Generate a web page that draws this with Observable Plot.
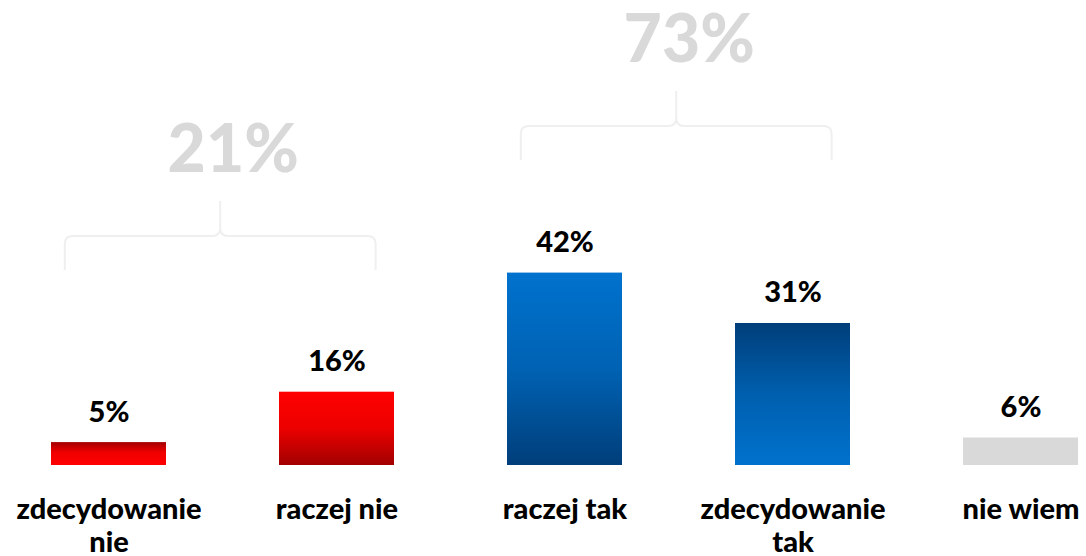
<!DOCTYPE html>
<html>
<head>
<meta charset="utf-8">
<script src="https://cdn.jsdelivr.net/npm/d3@7"></script>
<script src="https://cdn.jsdelivr.net/npm/@observablehq/plot@0.6"></script>
<style>
  html, body { margin: 0; padding: 0; background: #ffffff; }
  #chart { width: 1086px; height: 556px; overflow: hidden; }
  svg { font-family: Lato, "Open Sans", sans-serif; }
</style>
</head>
<body>
<div id="chart"></div>
<script>
// ---- data ----
const categories = ["zdecydowanie nie", "raczej nie", "raczej tak", "zdecydowanie tak", "nie wiem"];
const values = [5, 16, 42, 31, 6];
const tickLabels = ["zdecydowanie\nnie", "raczej nie", "raczej tak", "zdecydowanie\ntak", "nie wiem"];
const valueLabels = ["5%", "16%", "42%", "31%", "6%"];

const groupLabels = ["21%", "73%"];
const groupFirst = ["zdecydowanie nie", "raczej tak"];
const groupLast = ["raczej nie", "zdecydowanie tak"];
const groupLevels = [50, 74];

// ---- tables ----
const data = categories.map((c, i) => ({category: c, value: values[i], label: valueLabels[i], tick: tickLabels[i]}));
const groups = groupLabels.map((g, i) => ({label: g, first: groupFirst[i], last: groupLast[i], level: groupLevels[i]}));

const gradIds = categories.map((c, i) => `url(#grad${i})`);

function brackets(index, scales, vals, dimensions, context) {
  const ns = "http://www.w3.org/2000/svg";
  const g = document.createElementNS(ns, "g");
  const bw = scales.x.bandwidth();
  const r = 8;
  for (const grp of groups) {
    const L = scales.x(grp.first) + bw * 0.12;
    const R = scales.x(grp.last) + bw * 0.84;
    const M = (L + R) / 2;
    const yl = scales.y(grp.level);
    const yEnd = yl + 34;
    const yPeak = yl - 35;
    const p = document.createElementNS(ns, "path");
    p.setAttribute("d",
      `M${L},${yEnd} V${yl + r} Q${L},${yl} ${L + r},${yl} H${M - r} Q${M},${yl} ${M},${yl - r} V${yPeak} ` +
      `M${R},${yEnd} V${yl + r} Q${R},${yl} ${R - r},${yl} H${M + r} Q${M},${yl} ${M},${yl - r}`);
    p.setAttribute("fill", "none");
    p.setAttribute("stroke", "#EFEFEF");
    p.setAttribute("stroke-width", "2");
    g.appendChild(p);
    const t = document.createElementNS(ns, "text");
    t.setAttribute("x", M + 13);
    t.setAttribute("y", yl - 64);
    t.setAttribute("text-anchor", "middle");
    t.setAttribute("font-size", "66");
    t.setAttribute("font-weight", "900");
    t.setAttribute("fill", "#D9D9D9");
    t.textContent = grp.label;
    g.appendChild(t);
  }
  return g;
}

const chart = Plot.plot({
  width: 1086,
  height: 556,
  marginTop: 0,
  marginBottom: 91,
  marginLeft: 0,
  marginRight: 0,
  x: {domain: categories, range: [-7.3, 1135.8], paddingInner: 0.495, paddingOuter: 0.2475, axis: null},
  y: {domain: [0, 101.5], axis: null},
  color: {type: "ordinal", domain: categories, range: gradIds},
  style: {fontFamily: "Lato, 'Open Sans', sans-serif", background: "#ffffff"},
  marks: [
    Plot.barY(data, {x: "category", y: "value", fill: "category"}),
    Plot.text(data, {x: "category", y: "value", text: "label", dy: -21, lineAnchor: "bottom",
      fontSize: 29, fontWeight: 900, fill: "#000000"}),
    Plot.text(data, {x: "category", y: 0, text: "tick", dy: 29.4, lineAnchor: "top", lineHeight: 1.16,
      fontSize: 29, fontWeight: 900, fill: "#000000"}),
    brackets
  ]
});

// gradient definitions
const svg = d3.select(chart);
const defs = svg.insert("defs", ":first-child");
const stops = [
  [["0%", "#A20000"], ["45%", "#F00000"], ["100%", "#FF0000"]],
  [["0%", "#FF0000"], ["50%", "#EC0000"], ["100%", "#A20000"]],
  [["0%", "#0072CE"], ["50%", "#0062B3"], ["100%", "#003E7A"]],
  [["0%", "#003E7A"], ["50%", "#005FAE"], ["100%", "#0072CE"]],
  [["0%", "#D9D9D9"], ["100%", "#D9D9D9"]]
];
stops.forEach((s, i) => {
  const lg = defs.append("linearGradient").attr("id", `grad${i}`)
    .attr("x1", 0).attr("y1", 0).attr("x2", 0).attr("y2", 1);
  s.forEach(([o, c]) => lg.append("stop").attr("offset", o).attr("stop-color", c));
});

document.getElementById("chart").appendChild(chart);
</script>
</body>
</html>
